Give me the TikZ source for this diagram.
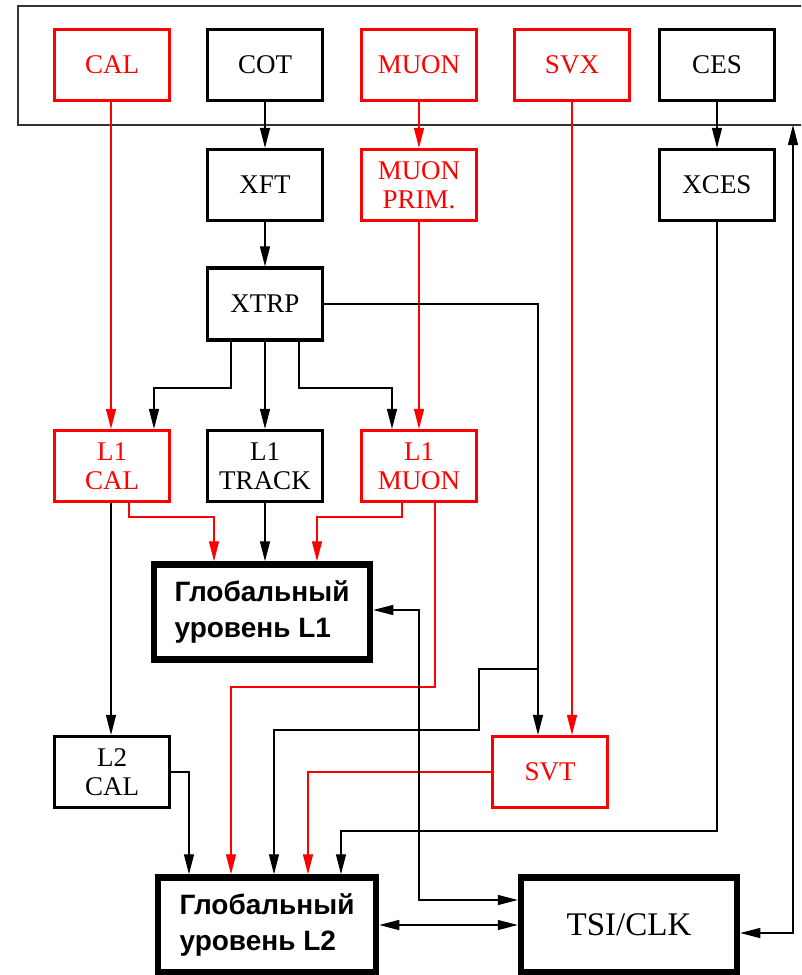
\documentclass[tikz,border=0pt]{standalone}
\usepackage{fontspec}
\setmainfont{Liberation Serif}
\newfontfamily\gfont{Liberation Sans}
\usetikzlibrary{arrows.meta}
\definecolor{rd}{RGB}{255,0,0}
\tikzset{
  box/.style={draw, line width=3.2pt, minimum width=115pt, minimum height=71pt, inner sep=0pt, align=center, font=\fontsize{27}{29}\selectfont},
  rbox/.style={box, draw=rd, text=rd},
  gbox/.style={draw, line width=6.5pt, minimum width=216pt, minimum height=95pt, inner sep=0pt, align=left, font=\gfont\bfseries\fontsize{28}{36}\selectfont},
  con/.style={line width=1.3pt, -{Triangle[length=20pt,width=10pt]}},
  con2/.style={line width=1.3pt, {Triangle[length=20pt,width=10pt]}-{Triangle[length=20pt,width=10pt]}},
}
\begin{document}
\begin{tikzpicture}[x=1pt,y=-1pt]
\useasboundingbox (0,0) rectangle (801,975);
\clip (0,0) rectangle (801,975);
% outer frame
\draw[line width=1.4pt, black!80] (18,6) rectangle (815,125);
\coordinate (frameb) at (793,125);
% top row
\node[rbox] (cal) at (112,65) {CAL};
\node[box]  (cot) at (265,65) {COT};
\node[rbox] (muon) at (419,65) {MUON};
\node[rbox] (svx) at (572,65) {SVX};
\node[box]  (ces) at (717,65) {CES};
% second row
\node[box]  (xft) at (265,185) {XFT};
\node[rbox] (muonp) at (419,185) {MUON\\PRIM.};
\node[box]  (xces) at (717,185) {XCES};
% XTRP
\node[box, minimum height=72pt] (xtrp) at (265,304) {XTRP};
% L1 row
\node[rbox] (l1cal) at (112,466) {L1\\CAL};
\node[box]  (l1trk) at (265,466) {L1\\TRACK};
\node[rbox] (l1muon) at (419,466) {L1\\MUON};
% global L1
\node[gbox] (gl1) at (262,612) {Глобальный\\уровень L1};
% L2 row
\node[box]  (l2cal) at (112,772) {L2\\CAL};
\node[rbox] (svt) at (550,772) {SVT};
% bottom
\node[gbox, minimum width=218pt] (gl2) at (267,925) {Глобальный\\уровень L2};
\node[box, line width=6.5pt, minimum width=216pt, minimum height=95pt, font=\fontsize{33}{36}\selectfont] (tsi) at (629,925) {TSI/CLK};

% simple vertical connectors
\draw[con] (cot) -- (xft);
\draw[con, rd] (muon) -- (muonp);
\draw[con] (ces) -- (xces);
\draw[con] (xft) -- (xtrp);
\draw[con, rd] (cal.south -| 111,0) -- (l1cal.north -| 111,0);
\draw[con, rd] (muonp) -- (l1muon.north -| muonp);
\draw[con] (xtrp) -- (l1trk);
\draw[con, rd] (svx.south -| 572,0) -- (svt.north -| 572,0);
% XTRP fan-out
\draw[con] (xtrp.south -| 231,0) |- (154,388) -- (l1cal.north -| 154,0);
\draw[con] (xtrp.south -| 299,0) |- (392,388) -- (l1muon.north -| 392,0);
\draw[con] (xtrp.east) -| (svt.north -| 538,0);
\draw[con] (538,669) -| (479,730) -| (gl2.north -| 274,0);
% L1 to global L1
\draw[con, rd] (l1cal.south -| 129,0) |- (214,517) -- (gl1.north -| 214,0);
\draw[con] (l1trk) -- (gl1.north -| l1trk);
\draw[con, rd] (l1muon.south -| 402,0) |- (317,517) -- (gl1.north -| 317,0);
\draw[con, rd] (l1muon.south -| 435,0) |- (231,687) -- (gl2.north -| 231,0);
% L2
\draw[con] (l1cal.south -| 111,0) -- (l2cal.north -| 111,0);
\draw[con] (l2cal.east) -| (gl2.north -| 189,0);
\draw[con, rd] (svt.west) -| (gl2.north -| 308,0);
\draw[con] (xces.south) |- (341,831) -- (gl2.north -| 341,0);
% TSI/CLK links
\draw[con2] (gl1.east |- 0,610) -| (419,900) -- (tsi.west |- 0,900);
\draw[con2] (gl2.east) -- (tsi.west);
\draw[con2] (tsi.east |- 0,933) -| (frameb);
\end{tikzpicture}
\end{document}
